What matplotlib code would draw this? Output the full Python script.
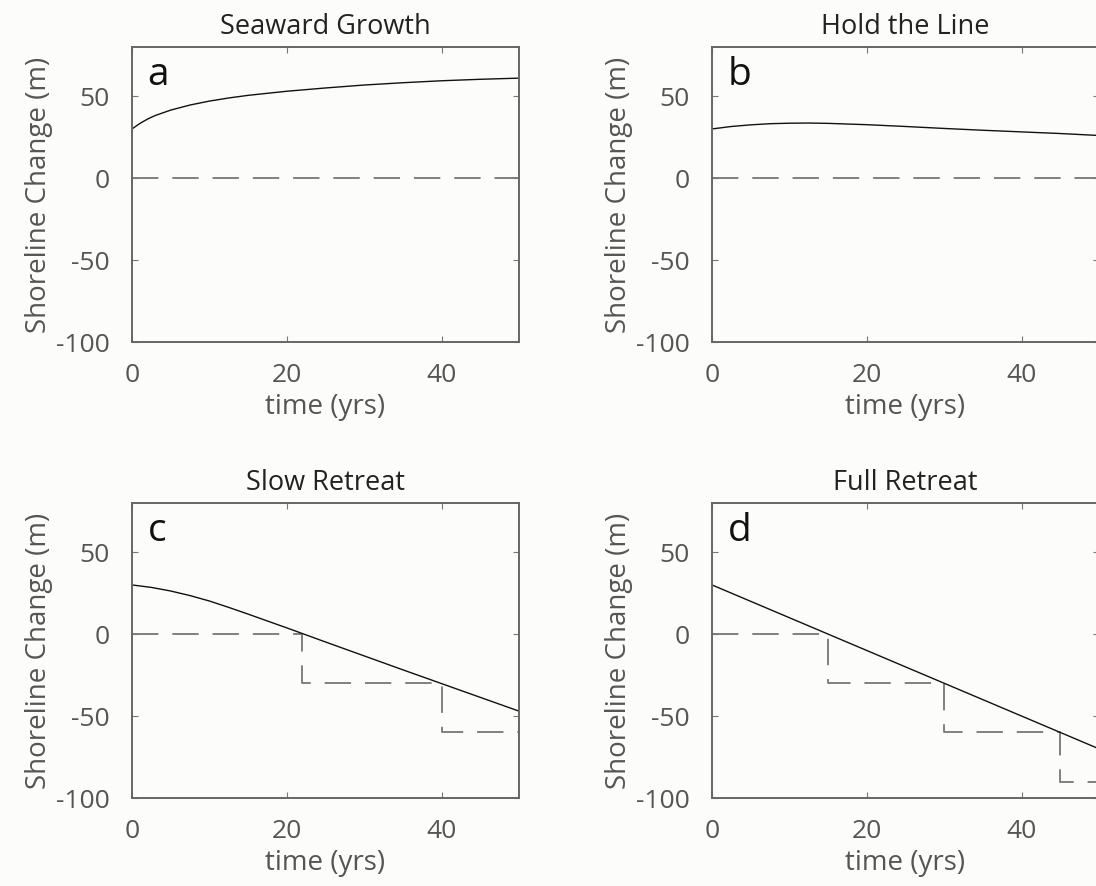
import numpy as np
import matplotlib
matplotlib.use('Agg')
import matplotlib.pyplot as plt

plt.rcParams['font.family'] = ['Open Sans', 'DejaVu Sans']
plt.rcParams['lines.scale_dashes'] = False
plt.rcParams['axes.unicode_minus'] = False

# panel titles and letters
titles = ['Seaward Growth', 'Hold the Line', 'Slow Retreat', 'Full Retreat']
letters = ['a', 'b', 'c', 'd']

# shoreline curves (time in yrs, change in m)
t_a = [0, 1, 2, 3, 5, 7.5, 10, 12.5, 15, 20, 25, 30, 35, 40, 45, 50]
y_a = [30, 33.3, 36, 38.2, 41.5, 44.6, 47, 48.9, 50.5, 53, 55, 56.8, 58.2, 59.4, 60.3, 61]

t_b = [0, 2.5, 5, 7.5, 10, 12.5, 15, 20, 25, 30, 35, 40, 45, 50]
y_b = [30, 31.5, 32.5, 33.2, 33.5, 33.6, 33.4, 32.6, 31.5, 30.3, 29.2, 28.2, 27.2, 26]

t_c = [0, 2.5, 5, 7.5, 10, 12.5, 15, 20, 25, 30, 35, 40, 45, 50]
y_c = [30, 28.5, 26.3, 23.5, 20.2, 16.3, 12.2, 3.8, -4.8, -13.3, -21.8, -30.2, -38.6, -47]

t_d = [0, 15, 30, 45, 50]
y_d = [30, 0, -30, -60, -70]

# dashed management steps (start times of each level, then end)
step_t_a = [0, 50]
step_y_a = [0, 0]
step_t_b = [0, 50]
step_y_b = [0, 0]
step_t_c = [0, 22, 40, 50]
step_y_c = [0, -30, -60, -60]
step_t_d = [0, 15, 30, 45, 50]
step_y_d = [0, -30, -60, -90, -90]

curves = [(t_a, y_a), (t_b, y_b), (t_c, y_c), (t_d, y_d)]
steps = [(step_t_a, step_y_a), (step_t_b, step_y_b),
         (step_t_c, step_y_c), (step_t_d, step_y_d)]

bg = '#fcfcfa'
fig = plt.figure(figsize=(10.96, 8.86), dpi=100, facecolor=bg)

w = 387 / 1096
h = 295 / 886
lefts = [132 / 1096, 712 / 1096]
bottoms = [1 - 342 / 886, 1 - 798 / 886]

for i in range(4):
    ax = fig.add_axes([lefts[i % 2], bottoms[i // 2], w, h], facecolor=bg)
    st, sy = steps[i]
    ax.step(st, sy, where='post', color='#777777', lw=1.3,
            linestyle=(0, (19, 10)))
    ct, cy = curves[i]
    ax.plot(ct, cy, color='#111111', lw=1.0)
    ax.set_xlim(0, 50)
    ax.set_ylim(-100, 80)
    ax.set_xticks([0, 20, 40])
    ax.set_yticks([-100, -50, 0, 50])
    ax.tick_params(direction='in', length=4, width=0.8, colors='#777777',
                   labelcolor='#555555', labelsize=19, top=True, right=True)
    ax.tick_params(axis='x', pad=15)
    ax.tick_params(axis='y', pad=16)
    for s in ax.spines.values():
        s.set_color('#666666')
        s.set_linewidth(1.4)
    ax.set_xlabel('time (yrs)', fontsize=20, color='#555555', labelpad=4)
    ax.set_ylabel('Shoreline Change (m)', fontsize=20, color='#555555',
                  labelpad=2)
    ax.set_title(titles[i], fontsize=19.5, color='#222222', pad=9)
    ax.text(0.04, 0.97, letters[i], transform=ax.transAxes, fontsize=28,
            color='#111111', va='top', ha='left')

fig.savefig('out.png', dpi=100, facecolor=bg)
